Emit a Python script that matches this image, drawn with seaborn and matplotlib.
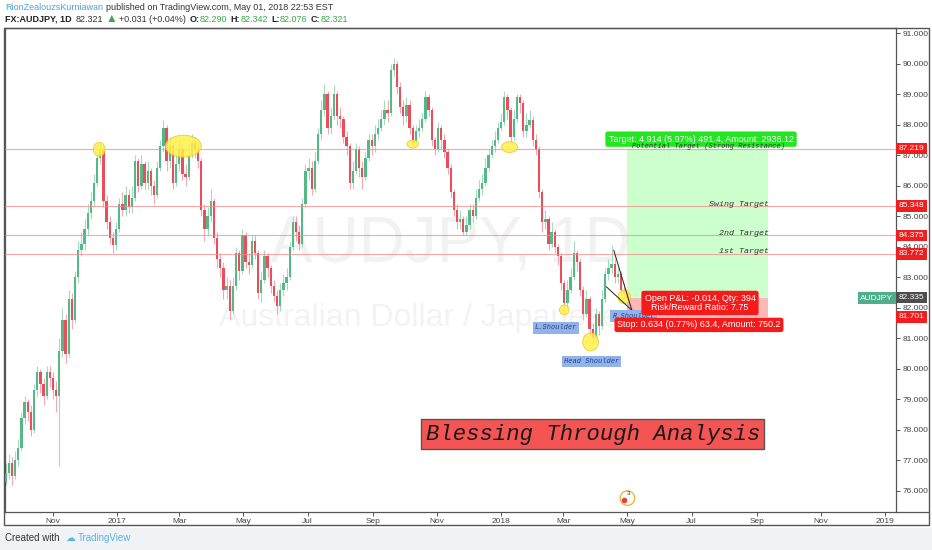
import numpy as np
import pandas as pd
import matplotlib
matplotlib.use("Agg")
import matplotlib.pyplot as plt
import matplotlib.dates as mdates
import matplotlib.patches as mpatches
import matplotlib.transforms as mtransforms
import seaborn as sns

# ---- candle data (one candle per 3 calendar days) ----
first_open = 76.3
closes = [
    76.6, 76.9, 76.5, 77.0, 77.4, 78.4, 78.9, 78.6, 78.0, 79.3,
    79.9, 79.5, 79.1, 79.9, 79.7, 79.3, 79.1, 80.6, 81.6, 80.5,
    82.3, 81.6, 83.0, 83.9, 84.1, 84.6, 85.1, 85.5, 86.1, 86.9,
    87.2, 85.5, 84.8, 84.3, 84.05, 84.6, 85.4, 85.2, 85.7, 85.3,
    85.6, 86.8, 86.0, 86.7, 86.1, 86.5, 86.0, 85.7, 86.6, 87.3,
    87.9, 86.8, 87.3, 86.1, 86.7, 87.2, 86.4, 86.3, 87.0, 87.4,
    87.2, 86.8, 85.2, 84.6, 85.0, 85.5, 84.3, 83.6, 83.3, 82.6,
    82.7, 81.9, 82.7, 83.8, 83.2, 84.4, 83.5, 83.4, 84.2, 83.8,
    82.5, 82.9, 83.7, 83.3, 82.7, 82.4, 82.05, 82.6, 82.8, 83.0,
    84.0, 84.8, 84.5, 84.1, 85.4, 86.5, 86.6, 85.9, 86.8, 87.7,
    88.5, 89.0, 87.9, 88.3, 89.0, 88.3, 88.2, 87.6, 87.3, 86.1,
    86.5, 87.2, 86.6, 86.3, 86.9, 87.5, 87.3, 87.7, 87.9, 88.2,
    88.5, 88.4, 89.8, 90.0, 89.25, 88.6, 88.3, 88.65, 87.9, 87.45,
    87.8, 87.9, 88.2, 88.9, 88.5, 87.5, 87.2, 87.9, 87.5, 87.1,
    86.6, 85.8, 85.2, 84.8, 84.9, 84.5, 84.7, 85.2, 85.0, 85.6,
    85.9, 86.1, 86.6, 87.0, 87.3, 87.5, 87.9, 88.1, 88.9, 88.5,
    87.6, 88.2, 88.9, 88.7, 87.8, 88.0, 88.15, 87.5, 87.2, 85.8,
    84.8, 84.9, 84.1, 84.5, 84.0, 83.7, 82.8, 82.15, 82.6, 83.0,
    83.8, 83.5, 82.6, 81.8, 82.3, 81.3, 81.0, 81.8, 81.4, 82.3,
    83.1, 83.3, 83.45, 83.0, 83.1, 82.6, 82.5, 82.32,
]
highs = [
    76.9, 77.2, 77.1, 77.3, 77.7, 78.6, 79.1, 79.0, 78.8, 79.5,
    80.1, 80.0, 79.7, 80.1, 80.1, 79.9, 79.6, 81.0, 82.0, 81.8,
    82.6, 82.5, 83.2, 84.2, 84.5, 84.9, 85.4, 85.8, 86.4, 87.1,
    87.4, 87.3, 85.7, 85.0, 84.5, 84.8, 85.6, 85.8, 86.0, 85.9,
    86.0, 87.0, 86.9, 87.0, 86.8, 86.8, 86.6, 86.2, 86.8, 87.5,
    88.15, 88.0, 87.6, 87.4, 87.0, 87.5, 87.3, 86.7, 87.2, 87.7,
    87.6, 87.4, 86.9, 85.4, 85.3, 85.9, 85.6, 84.5, 83.8, 83.5,
    83.0, 82.9, 83.0, 84.0, 83.9, 84.6, 84.5, 83.8, 84.4, 84.4,
    83.9, 83.2, 83.9, 83.8, 83.4, 82.9, 82.6, 82.8, 83.1, 83.3,
    84.2, 85.0, 85.0, 84.7, 85.6, 86.7, 86.9, 86.8, 87.1, 87.9,
    88.8, 89.35, 89.1, 88.6, 89.3, 89.1, 88.6, 88.3, 87.8, 87.4,
    86.8, 87.4, 87.3, 86.8, 87.1, 87.7, 87.7, 88.0, 88.2, 88.5,
    88.8, 88.8, 90.0, 90.2, 90.1, 89.4, 88.8, 88.9, 88.8, 88.0,
    88.0, 88.2, 88.4, 89.1, 89.0, 88.6, 87.6, 88.1, 88.0, 87.7,
    87.2, 86.7, 85.9, 85.4, 85.2, 85.0, 85.0, 85.4, 85.4, 85.9,
    86.2, 86.4, 86.9, 87.2, 87.5, 87.8, 88.1, 88.4, 89.1, 89.0,
    88.6, 88.5, 89.0, 89.0, 88.8, 88.4, 88.5, 88.3, 87.7, 87.3,
    85.9, 85.2, 85.0, 84.8, 84.6, 84.1, 83.8, 82.9, 82.9, 83.3,
    84.2, 83.9, 83.6, 82.7, 82.6, 82.4, 81.5, 82.0, 81.9, 82.6,
    83.3, 83.6, 84.05, 83.6, 83.3, 83.2, 82.8, 82.6,
]
lows = [
    76.2, 76.4, 76.2, 76.4, 76.8, 77.3, 78.2, 78.3, 77.8, 77.9,
    79.1, 79.2, 78.8, 79.0, 79.4, 79.0, 78.6, 76.8, 80.4, 80.2,
    80.4, 81.3, 81.5, 82.8, 83.7, 83.9, 84.4, 84.9, 85.3, 86.0,
    86.7, 85.3, 84.6, 84.1, 83.8, 83.9, 84.5, 85.0, 85.0, 85.1,
    85.1, 85.5, 85.8, 85.9, 85.9, 85.9, 85.7, 85.4, 85.6, 86.5,
    87.1, 86.5, 86.6, 85.9, 86.0, 86.5, 86.2, 86.0, 86.2, 86.9,
    86.9, 86.6, 85.0, 84.2, 84.4, 84.8, 84.1, 83.3, 83.0, 82.3,
    82.3, 81.6, 81.8, 82.6, 82.9, 83.1, 83.3, 83.1, 83.3, 83.6,
    82.3, 82.2, 82.8, 83.0, 82.5, 82.2, 81.8, 81.9, 82.4, 82.6,
    82.9, 83.9, 84.2, 83.9, 84.0, 85.3, 86.2, 85.7, 85.8, 86.7,
    87.5, 88.3, 87.7, 87.7, 88.2, 88.0, 87.9, 87.4, 87.0, 85.9,
    85.9, 86.4, 86.3, 85.9, 86.2, 86.8, 87.0, 87.1, 87.5, 87.8,
    88.0, 88.1, 88.3, 89.6, 89.0, 88.4, 88.0, 88.1, 87.7, 87.3,
    87.4, 87.6, 87.8, 88.1, 88.3, 87.3, 87.0, 87.1, 87.2, 86.9,
    86.4, 85.6, 85.0, 84.6, 84.6, 84.4, 84.4, 84.6, 84.8, 84.9,
    85.5, 85.7, 86.0, 86.5, 86.9, 87.1, 87.4, 87.8, 88.0, 88.2,
    87.4, 87.5, 88.1, 88.4, 87.6, 87.6, 87.9, 87.3, 87.0, 85.6,
    84.5, 84.6, 83.9, 84.0, 83.8, 83.4, 82.6, 81.9, 82.0, 82.5,
    82.9, 83.2, 82.4, 81.6, 81.7, 81.1, 80.8, 80.9, 81.1, 81.3,
    82.2, 82.9, 83.1, 82.8, 82.8, 82.4, 82.3, 82.1,
]
candle_dates = pd.date_range("2016-09-17", periods=len(closes), freq="3D")

# ---- drawing levels and trade ----
level_prices = [87.219, 85.348, 84.375, 83.772]
level_names = ["Potential Target (Strong Resistance)", "Swing Target", "2nd Target", "1st Target"]
entry_price = 82.32
stop_price = 81.701
last_price = 82.335
trade_start, trade_end = "2018-05-01", "2018-09-12"

circle_dates = ["2016-12-15", "2017-03-05", "2017-10-09", "2018-01-09", "2018-03-02", "2018-03-27", "2018-04-28"]
circle_prices = [87.2, 87.3, 87.37, 87.27, 81.93, 80.88, 82.36]
circle_w_days = [11, 34, 11, 15, 9, 15, 12]
circle_h = [0.46, 0.72, 0.26, 0.36, 0.33, 0.59, 0.45]

W, H = 932, 550
UP, DN = "#53b987", "#eb4d5c"
UP_WICK, DN_WICK = "#a9d9bf", "#f2a9b1"

sns.set_theme(style="white")
plt.rcParams["font.family"] = ["Liberation Sans", "DejaVu Sans"]

fig = plt.figure(figsize=(W / 100, H / 100), dpi=100, facecolor="white")
ax = fig.add_axes([5 / W, 38 / H, 891 / W, 484 / H])
ax.set_facecolor("white")

df = pd.DataFrame({"date": mdates.date2num(candle_dates), "close": closes, "high": highs, "low": lows})
df["open"] = [first_open] + closes[:-1]
df["up"] = df["close"] >= df["open"]
df["bottom"] = df[["open", "close"]].min(axis=1)
df["body"] = (df["close"] - df["open"]).abs().clip(lower=0.04)

ax.vlines(df["date"], df["low"], df["high"], colors=np.where(df["up"], UP_WICK, DN_WICK), lw=0.8, zorder=2)
ax.bar(df["date"], df["body"], bottom=df["bottom"], width=2.2,
       color=np.where(df["up"], UP, DN), linewidth=0, zorder=3)

base = mdates.date2num(pd.Timestamp("2016-11-01"))
ax.set_xlim(base - 45.6, base + 801.3)
ax.set_ylim(75.305, 91.174)

# watermark
ax.text(0.5, 0.552, "AUDJPY, 1D", transform=ax.transAxes, ha="center", va="center",
        fontsize=46, color="#f2f2f2", zorder=0.5)
ax.text(0.5, 0.40, "Australian Dollar / Japanese Yen", transform=ax.transAxes, ha="center",
        va="center", fontsize=23, color="#f3f3f3", zorder=0.5)

# horizontal levels
for p in level_prices:
    ax.axhline(p, color="#f28b8b", lw=0.8, alpha=0.75, zorder=4)

# trade boxes
d0, d1 = mdates.date2num(pd.Timestamp(trade_start)), mdates.date2num(pd.Timestamp(trade_end))
ax.add_patch(mpatches.Rectangle((d0, entry_price), d1 - d0, level_prices[0] - entry_price,
                                facecolor="#00ff00", alpha=0.2, lw=0, zorder=1))
ax.add_patch(mpatches.Rectangle((d0, stop_price), d1 - d0, entry_price - stop_price,
                                facecolor="#ff0000", alpha=0.28, lw=0, zorder=1))

mono = dict(family="Liberation Mono", style="italic", color="#333333")
ax.text(mdates.date2num(pd.Timestamp("2018-07-17")), 87.30, level_names[0], ha="center", va="center",
        fontsize=5, zorder=9, **mono)
for name, y in zip(level_names[1:], [85.40, 84.43, 83.84]):
    ax.text(mdates.date2num(pd.Timestamp("2018-09-13")), y, name, ha="right", va="center",
            fontsize=6, zorder=6, **mono)

# yellow highlights
for d, p, w, h in zip(circle_dates, circle_prices, circle_w_days, circle_h):
    ax.add_patch(mpatches.Ellipse((mdates.date2num(pd.Timestamp(d)), p), w, h,
                                  facecolor="#fff04a", edgecolor="#e6c52a", lw=0.6, alpha=0.85, zorder=5))

# trend lines
for (a, pa), (b, pb) in [(("2018-04-18", 83.89), ("2018-05-06", 81.83)),
                         (("2018-04-11", 82.69), ("2018-05-08", 81.83))]:
    ax.plot([mdates.date2num(pd.Timestamp(a)), mdates.date2num(pd.Timestamp(b))], [pa, pb],
            color="#222222", lw=0.7, zorder=5)

# pattern labels
blue_box = dict(boxstyle="square,pad=0.3", fc="#93b3e8", ec="none")
for s, d, p in [("L.Shoulder", "2018-02-22", 81.34), ("Head Shoulder", "2018-03-28", 80.23),
                ("R.Shoulder", "2018-05-07", 81.73)]:
    ax.text(mdates.date2num(pd.Timestamp(d)), p, s, ha="center", va="center", fontsize=5,
            family="Liberation Mono", style="italic", color="#1c3f8f", bbox=blue_box, zorder=6)

# trade labels
ax.text(mdates.date2num(pd.Timestamp("2018-07-10")), 87.53,
        "Target: 4.914 (5.97%) 491.4, Amount: 2936.12", ha="center", va="center", fontsize=6.5,
        color="white", bbox=dict(boxstyle="round,pad=0.35,rounding_size=0.25", fc="#22e622", ec="none"),
        zorder=7)
ax.text(mdates.date2num(pd.Timestamp("2018-07-09")), 82.16,
        "Open P&L: -0.014, Qty: 394\nRisk/Reward Ratio: 7.75", ha="center", va="center", fontsize=6.5,
        linespacing=1.0, color="white",
        bbox=dict(boxstyle="round,pad=0.35,rounding_size=0.25", fc="#f51b1b", ec="none"), zorder=7)
ax.text(mdates.date2num(pd.Timestamp("2018-07-08")), 81.44,
        "Stop: 0.634 (0.77%) 63.4, Amount: 750.2", ha="center", va="center", fontsize=6.5,
        color="white", bbox=dict(boxstyle="round,pad=0.3,rounding_size=0.25", fc="#f51b1b", ec="none"),
        zorder=7)

# Blessing box
b0, b1 = mdates.date2num(pd.Timestamp("2017-10-17")), mdates.date2num(pd.Timestamp("2018-09-08"))
ax.add_patch(mpatches.Rectangle((b0, 77.37), b1 - b0, 0.99, facecolor="#f55454", edgecolor="#555555",
                                lw=1, zorder=6))
ax.text((b0 + b1) / 2, 77.86, "Blessing Through Analysis", ha="center", va="center", fontsize=16,
        family="Liberation Mono", style="italic", color="#1a1a1a", zorder=7)

# event icon near bottom
ev = mdates.date2num(pd.Timestamp("2018-05-01"))
ax.scatter([ev], [75.76], s=110, facecolors="none", edgecolors="#f2b544", lw=1, zorder=6)
ax.scatter([ev - 3], [75.70], s=9, color="#e8403c", zorder=7)
ax.text(ev + 1, 75.92, "3", fontsize=4.5, color="#333", ha="center", va="center", zorder=7)

# axes styling
for sp in ax.spines.values():
    sp.set_color("#555555")
    sp.set_linewidth(0.9)
ax.yaxis.tick_right()
ax.set_yticks(np.arange(76, 92, 1))
ax.yaxis.set_major_formatter(matplotlib.ticker.FuncFormatter(lambda v, p: f"{v:.3f}"))
ax.tick_params(axis="y", right=True, left=False, length=3, width=0.7, color="#555",
               labelsize=6, labelcolor="#444", pad=1.5)
ax.xaxis.set_major_locator(mdates.MonthLocator(bymonth=[1, 3, 5, 7, 9, 11]))
ax.xaxis.set_major_formatter(matplotlib.ticker.FuncFormatter(
    lambda v, p: str(mdates.num2date(v).year) if mdates.num2date(v).month == 1 else mdates.num2date(v).strftime("%b")))
ax.tick_params(axis="x", bottom=True, length=3, width=0.7, color="#555",
               labelsize=6, labelcolor="#444", pad=1.5)
ax.grid(False)

# price labels on the axis
blend = mtransforms.blended_transform_factory(ax.transAxes, ax.transData)
for p in level_prices + [stop_price]:
    ax.text(1.003, p, f"{p:.3f}", transform=blend, ha="left", va="center", fontsize=6, color="white",
            bbox=dict(boxstyle="square,pad=0.28", fc="#f21d1d", ec="none"), clip_on=False, zorder=8)
ax.text(1.003, last_price, f"{last_price:.3f}", transform=blend, ha="left", va="center", fontsize=6,
        color="white", bbox=dict(boxstyle="square,pad=0.28", fc="#4d4d4d", ec="none"), clip_on=False, zorder=8)
ax.text(1 - 3 / 891, entry_price, "AUDJPY", transform=blend, ha="right", va="center", fontsize=6,
        color="white", bbox=dict(boxstyle="square,pad=0.3", fc="#4fae8b", ec="none"), zorder=8)

# frame and footer
fig.patches.append(mpatches.Rectangle((4 / W, 25 / H), 925 / W, 497 / H, transform=fig.transFigure,
                                      fill=False, edgecolor="#555555", lw=1))
fig.patches.append(mpatches.Rectangle((0, 0), 1, 22 / H, transform=fig.transFigure,
                                      facecolor="#f0f3f6", edgecolor="none"))
fig.lines.append(plt.Line2D([896 / W, 929 / W], [38 / H, 38 / H], transform=fig.transFigure,
                            color="#555555", lw=0.9))


def run_text(x_px, y_px, parts, size):
    renderer = fig.canvas.get_renderer()
    x = x_px
    for s, color, weight, gap, *extra in parts:
        fs = extra[0] if extra else size
        t = fig.text(x / W, 1 - y_px / H, s, fontsize=fs, color=color, fontweight=weight,
                     ha="left", va="center")
        x += t.get_window_extent(renderer).width + gap


GREEN_TXT = "#3aa84a"
run_text(5, 8, [("RionZealouzsKurniawan", "#4aa3df", "normal", 3),
                ("published on TradingView.com, May 01, 2018 22:53 EST", "#333333", "normal", 0)], 6.5)
run_text(5, 19, [("FX:AUDJPY, 1D", "#222222", "bold", 4),
                 ("82.321", "#333333", "normal", 2),
                 ("▲", GREEN_TXT, "normal", 2, 8.5),
                 ("+0.031 (+0.04%)", "#333333", "normal", 4),
                 ("O:", "#222222", "bold", 0.5), ("82.290", GREEN_TXT, "normal", 3),
                 ("H:", "#222222", "bold", 0.5), ("82.342", GREEN_TXT, "normal", 3),
                 ("L:", "#222222", "bold", 0.5), ("82.076", GREEN_TXT, "normal", 3),
                 ("C:", "#222222", "bold", 0.5), ("82.321", GREEN_TXT, "normal", 0)], 6.5)
run_text(5, 538, [("Created with", "#333333", "normal", 6), ("☁", "#5ab4e5", "normal", 3),
                  ("TradingView", "#5ab4e5", "normal", 0)], 7)

fig.savefig("out.png", dpi=100, facecolor="white")
